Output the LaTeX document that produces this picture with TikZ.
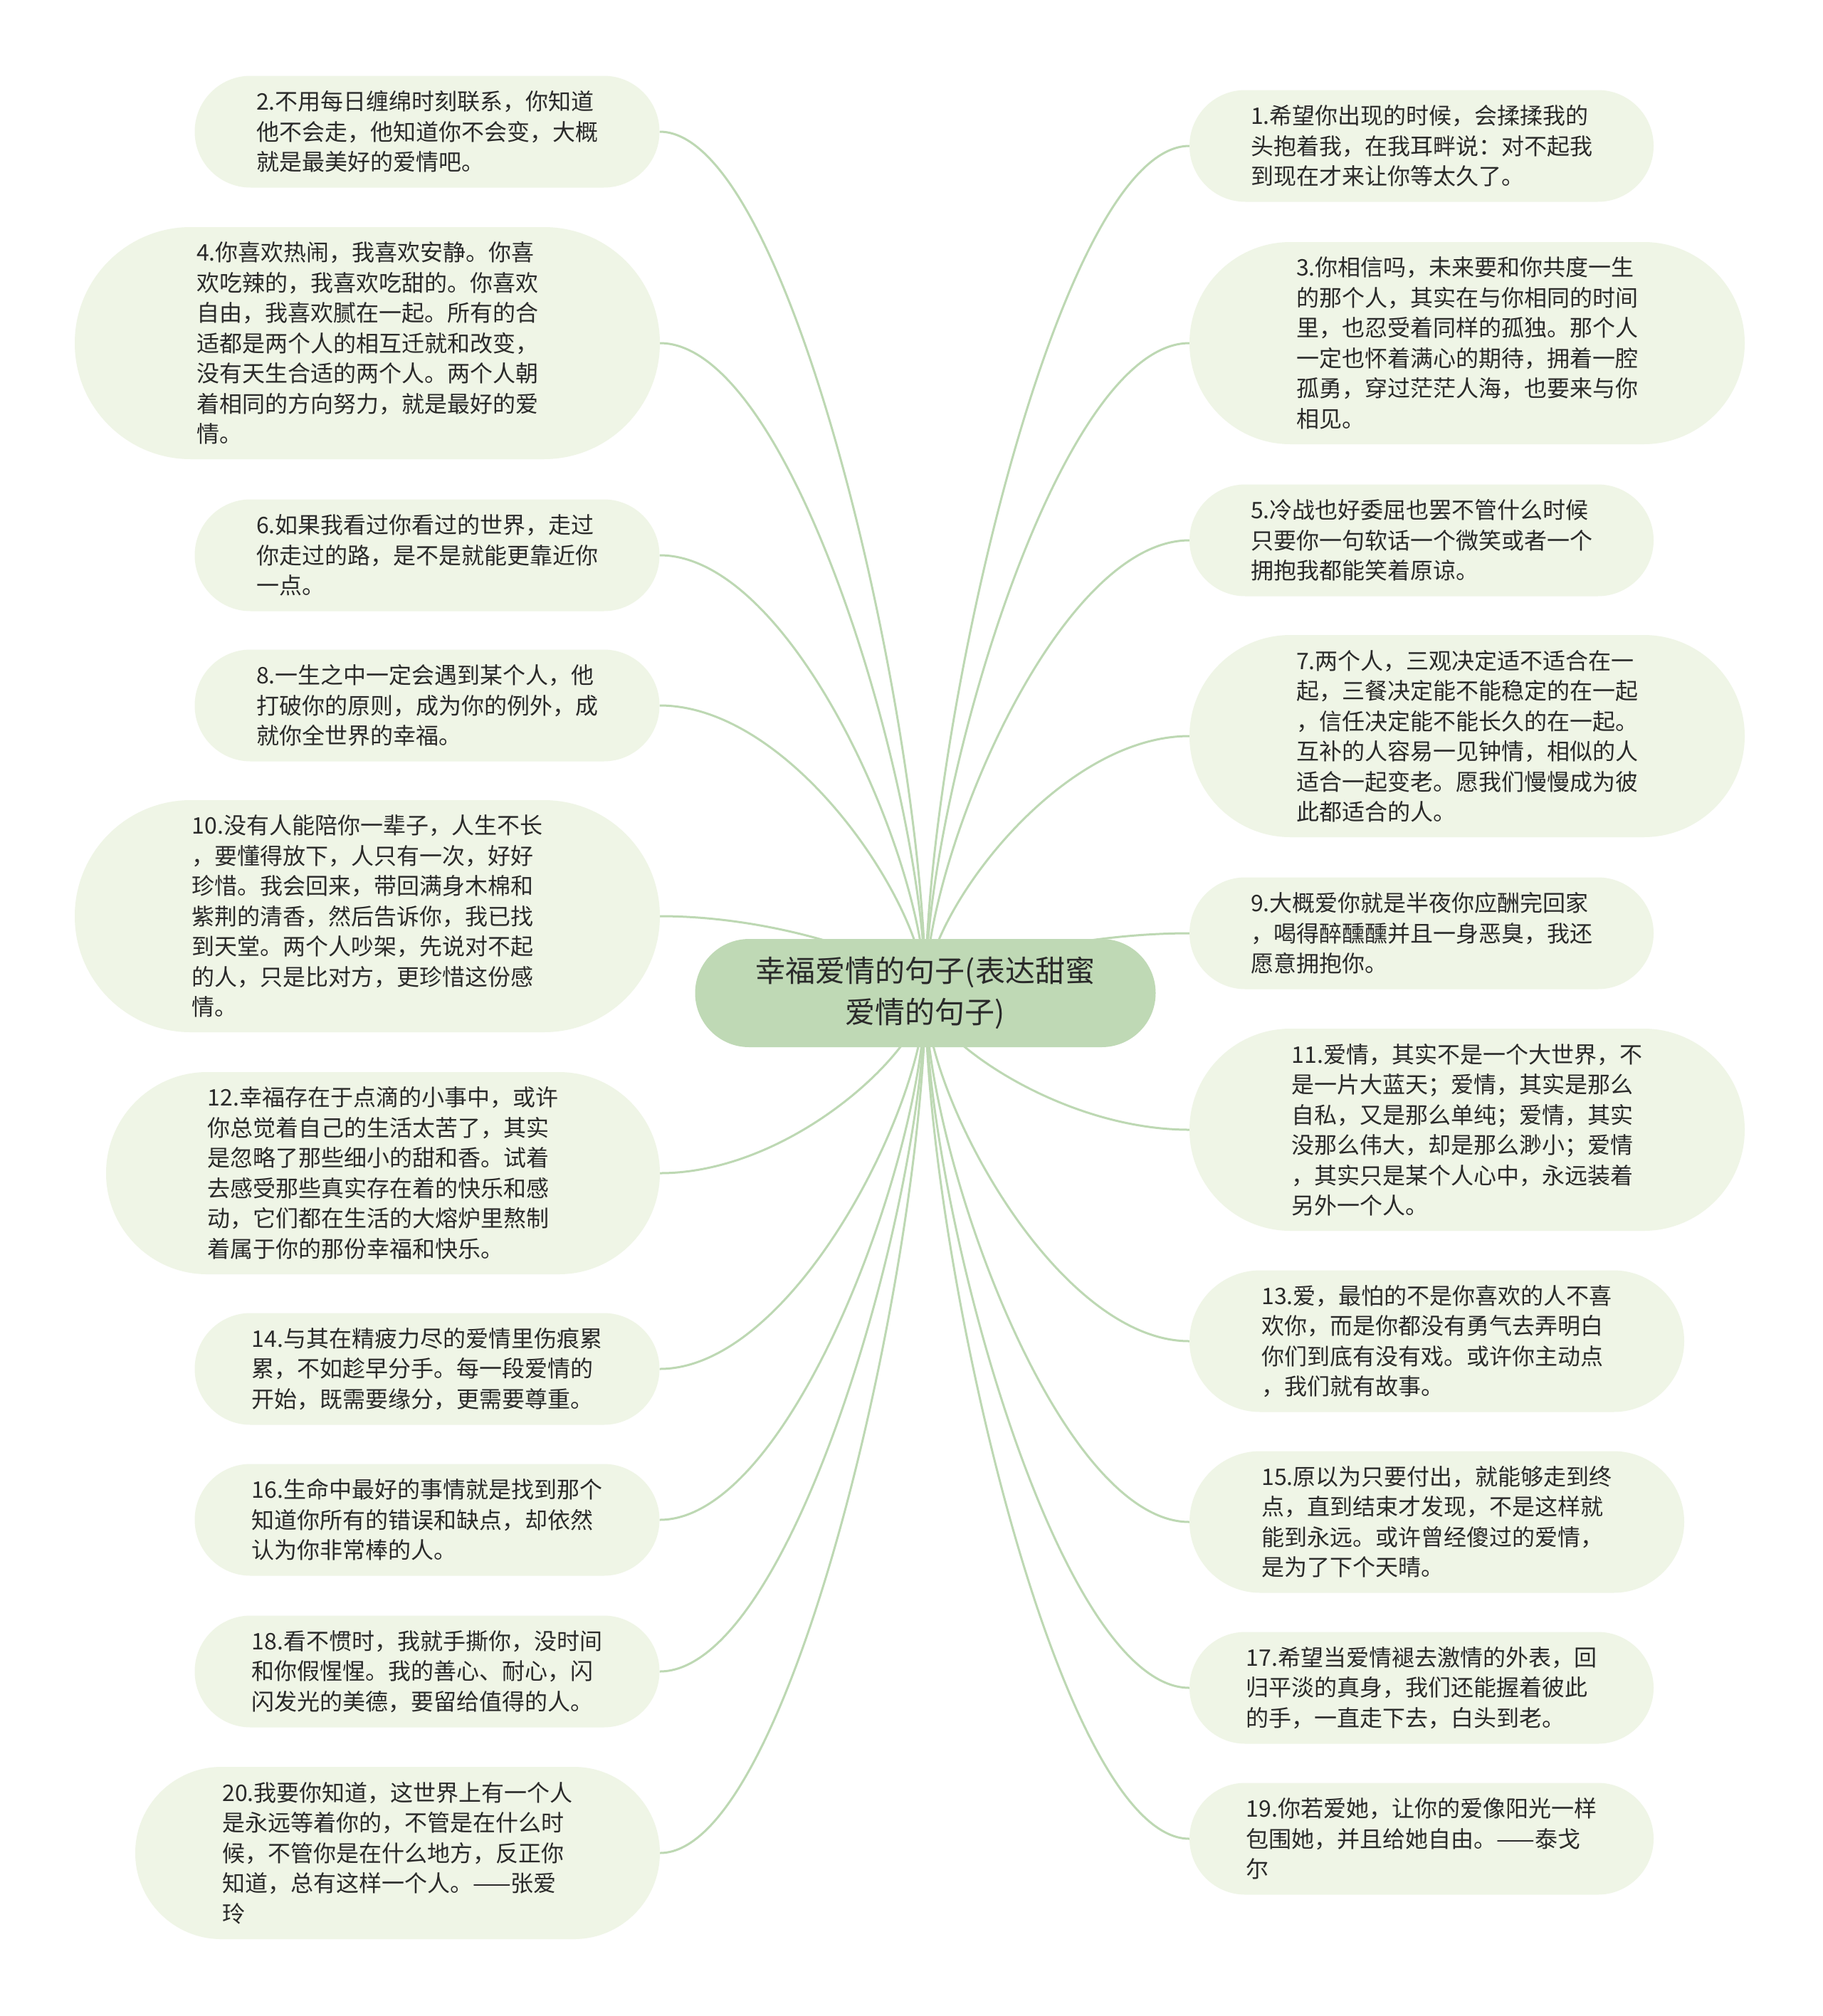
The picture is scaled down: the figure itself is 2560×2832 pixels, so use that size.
\documentclass[tikz,border=0pt]{standalone}
\usepackage{fontspec}
\setmainfont{Noto Sans CJK SC}
\usetikzlibrary{backgrounds,calc}
\definecolor{leaffill}{HTML}{EFF5E6}
\definecolor{rootfill}{HTML}{BFD9B5}
\definecolor{linkcol}{HTML}{BDD8B3}
\definecolor{txt}{HTML}{2A2A2A}
\newcommand\leafnode[7]{\node[leaf, minimum width=#4pt, minimum height=#5pt, rounded corners=#6pt] (#1) at (#2,#3) {#7};}
\begin{document}
\begin{tikzpicture}[x=1pt,y=-1pt,
  leaf/.style={draw=none, fill=leaffill, inner sep=0pt, align=left, text=txt, font=\fontsize{32}{42.5}\selectfont},
  rootbox/.style={fill=rootfill, inner sep=0pt, align=center, text=txt, font=\fontsize{42}{58}\selectfont, minimum width=647pt, minimum height=152pt, rounded corners=76pt},
  link/.style={draw=linkcol, line width=3pt}]
\useasboundingbox (0,0) rectangle (2560,2832);

\node[rootbox] (root) at (1300,1395) {幸福爱情的句子(表达甜蜜\\爱情的句子)};

% left side
\leafnode{n2}{600}{185}{653}{157}{78.5}{2.不用每日缠绵时刻联系，你知道\\他不会走，他知道你不会变，大概\\就是最美好的爱情吧。}
\leafnode{n4}{516}{482}{822}{326}{163}{4.你喜欢热闹，我喜欢安静。你喜\\欢吃辣的，我喜欢吃甜的。你喜欢\\自由，我喜欢腻在一起。所有的合\\适都是两个人的相互迁就和改变，\\没有天生合适的两个人。两个人朝\\着相同的方向努力，就是最好的爱\\情。}
\leafnode{n6}{600}{780}{653}{157}{78.5}{6.如果我看过你看过的世界，走过\\你走过的路，是不是就能更靠近你\\一点。}
\leafnode{n8}{600}{991}{653}{157}{78.5}{8.一生之中一定会遇到某个人，他\\打破你的原则，成为你的例外，成\\就你全世界的幸福。}
\leafnode{n10}{516}{1287}{822}{326}{163}{10.没有人能陪你一辈子，人生不长\\，要懂得放下，人只有一次，好好\\珍惜。我会回来，带回满身木棉和\\紫荆的清香，然后告诉你，我已找\\到天堂。两个人吵架，先说对不起\\的人，只是比对方，更珍惜这份感\\情。}
\leafnode{n12}{538}{1648}{778}{284}{142}{12.幸福存在于点滴的小事中，或许\\你总觉着自己的生活太苦了，其实\\是忽略了那些细小的甜和香。试着\\去感受那些真实存在着的快乐和感\\动，它们都在生活的大熔炉里熬制\\着属于你的那份幸福和快乐。}
\leafnode{n14}{600}{1923}{653}{157}{78.5}{14.与其在精疲力尽的爱情里伤痕累\\累，不如趁早分手。每一段爱情的\\开始，既需要缘分，更需要尊重。}
\leafnode{n16}{600}{2135}{653}{157}{78.5}{16.生命中最好的事情就是找到那个\\知道你所有的错误和缺点，却依然\\认为你非常棒的人。}
\leafnode{n18}{600}{2348}{653}{157}{78.5}{18.看不惯时，我就手撕你，没时间\\和你假惺惺。我的善心、耐心，闪\\闪发光的美德，要留给值得的人。}
\leafnode{n20}{558.5}{2603}{737}{242}{121}{20.我要你知道，这世界上有一个人\\是永远等着你的，不管是在什么时\\候，不管你是在什么地方，反正你\\知道，总有这样一个人。——张爱\\玲}

% right side
\leafnode{n1}{1997}{205}{652}{157}{78.5}{1.希望你出现的时候，会揉揉我的\\头抱着我，在我耳畔说：对不起我\\到现在才来让你等太久了。}
\leafnode{n3}{2061}{482}{780}{284}{142}{3.你相信吗，未来要和你共度一生\\的那个人，其实在与你相同的时间\\里，也忍受着同样的孤独。那个人\\一定也怀着满心的期待，拥着一腔\\孤勇，穿过茫茫人海，也要来与你\\相见。}
\leafnode{n5}{1997}{759}{652}{157}{78.5}{5.冷战也好委屈也罢不管什么时候\\只要你一句软话一个微笑或者一个\\拥抱我都能笑着原谅。}
\leafnode{n7}{2061}{1034}{780}{284}{142}{7.两个人，三观决定适不适合在一\\起，三餐决定能不能稳定的在一起\\，信任决定能不能长久的在一起。\\互补的人容易一见钟情，相似的人\\适合一起变老。愿我们慢慢成为彼\\此都适合的人。}
\leafnode{n9}{1997}{1311}{652}{157}{78.5}{9.大概爱你就是半夜你应酬完回家\\，喝得醉醺醺并且一身恶臭，我还\\愿意拥抱你。}
\leafnode{n11}{2061}{1587}{780}{284}{142}{11.爱情，其实不是一个大世界，不\\是一片大蓝天；爱情，其实是那么\\自私，又是那么单纯；爱情，其实\\没那么伟大，却是那么渺小；爱情\\，其实只是某个人心中，永远装着\\另外一个人。}
\leafnode{n13}{2018.5}{1884}{695}{199}{99.5}{13.爱，最怕的不是你喜欢的人不喜\\欢你，而是你都没有勇气去弄明白\\你们到底有没有戏。或许你主动点\\，我们就有故事。}
\leafnode{n15}{2018.5}{2138}{695}{199}{99.5}{15.原以为只要付出，就能够走到终\\点，直到结束才发现，不是这样就\\能到永远。或许曾经傻过的爱情，\\是为了下个天晴。}
\leafnode{n17}{1997}{2371}{652}{157}{78.5}{17.希望当爱情褪去激情的外表，回\\归平淡的真身，我们还能握着彼此\\的手，一直走下去，白头到老。}
\leafnode{n19}{1997}{2583}{652}{157}{78.5}{19.你若爱她，让你的爱像阳光一样\\包围她，并且给她自由。——泰戈\\尔}

\begin{pgfonlayer}{background}
\fill[white] (0,0) rectangle (2560,2832);
\foreach \n in {n2,n4,n6,n8,n10,n12,n14,n16,n18,n20}
  \draw[link] (root.center) .. controls ($(root.center)!0.3!(root.center |- \n.east)$) and ($(\n.east)!0.5!(root.center |- \n.east)$) .. (\n.east);
\foreach \n in {n1,n3,n5,n7,n9,n11,n13,n15,n17,n19}
  \draw[link] (root.center) .. controls ($(root.center)!0.3!(root.center |- \n.west)$) and ($(\n.west)!0.5!(root.center |- \n.west)$) .. (\n.west);
\end{pgfonlayer}
\end{tikzpicture}
\end{document}
